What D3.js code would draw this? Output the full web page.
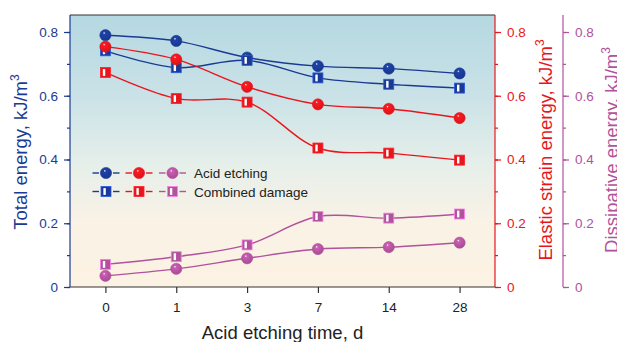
<!DOCTYPE html>
<html>
<head>
<meta charset="utf-8">
<script src="https://cdn.jsdelivr.net/npm/d3@7"></script>
<style>
  body { margin: 0; background: #fff; }
  svg { display: block; font-family: "Liberation Sans", Arial, sans-serif; }
</style>
</head>
<body>
<div id="chart"></div>
<script>
// data
const times = ['0', '1', '3', '7', '14', '28'];
const totalAcid = [0.790, 0.772, 0.720, 0.693, 0.685, 0.670];
const totalComb = [0.741, 0.688, 0.711, 0.656, 0.636, 0.624];
const elasticAcid = [0.754, 0.714, 0.628, 0.573, 0.559, 0.530];
const elasticComb = [0.673, 0.591, 0.580, 0.436, 0.420, 0.398];
const dissAcid = [0.035, 0.057, 0.090, 0.119, 0.125, 0.139];
const dissComb = [0.071, 0.095, 0.132, 0.221, 0.216, 0.229];
const yTicks = [0, 0.2, 0.4, 0.6, 0.8];
const legendLabels = ['Acid etching', 'Combined damage'];

const W = 617, H = 342;
const m = {left: 70, right: 495, top: 15, bottom: 287};
const blue = '#1a3a94', red = '#e8161c', purple = '#b0529c';

const svg = d3.select('#chart').append('svg')
    .attr('width', W).attr('height', H);

const defs = svg.append('defs');
const bg = defs.append('linearGradient').attr('id', 'bg')
    .attr('x1', 0).attr('y1', 0).attr('x2', 0).attr('y2', 1);
[['0%', '#b5d8e2'], ['30%', '#cae2e7'], ['55%', '#e6efea'], ['75%', '#f9f2e6'], ['100%', '#fcf2e4']]
    .forEach(([o, c]) => bg.append('stop').attr('offset', o).attr('stop-color', c));

function shine(id, col) {
    const g = defs.append('radialGradient').attr('id', id)
        .attr('cx', '45%').attr('cy', '40%').attr('r', '60%').attr('fx', '38%').attr('fy', '30%');
    g.append('stop').attr('offset', '0%').attr('stop-color', '#ffffff');
    g.append('stop').attr('offset', '18%').attr('stop-color', d3.color(col).brighter(0.4));
    g.append('stop').attr('offset', '100%').attr('stop-color', d3.color(col).darker(0.2));
}
shine('sb', blue); shine('sr', red); shine('sp', purple);

const x = d3.scalePoint().domain(times).range([m.left, m.right]).padding(0.5);
const y = d3.scaleLinear().domain([0, 0.8]).range([m.bottom, m.bottom - 255]);

svg.append('rect')
    .attr('x', m.left).attr('y', m.top)
    .attr('width', m.right - m.left).attr('height', m.bottom - m.top)
    .attr('fill', 'url(#bg)');
svg.append('line').attr('x1', m.left).attr('x2', m.right)
    .attr('y1', m.top).attr('y2', m.top).attr('stroke', '#333').attr('stroke-width', 1.2);

// axes
const minor = d3.range(0, 0.81, 0.1);
function yAxis(gen, xpos, col) {
    const g = svg.append('g').attr('transform', `translate(${xpos},0)`);
    g.call(gen(y).tickValues(yTicks).tickFormat(d => d === 0 ? '0' : d3.format('.1f')(d))
        .tickSize(6).tickPadding(6).tickSizeOuter(0));
    g.append('g').call(gen(y).tickValues(minor).tickFormat('').tickSize(3).tickSizeOuter(0))
        .select('.domain').remove();
    g.selectAll('path.domain').attr('d', `M0,${m.top}V${m.bottom}`);
    g.selectAll('line, path').attr('stroke', col).attr('stroke-width', 1.2);
    g.selectAll('text').attr('fill', col).attr('font-size', 13.5).attr('font-family', null);
    return g;
}
yAxis(d3.axisLeft, m.left, blue);
yAxis(d3.axisRight, m.right, red);
yAxis(d3.axisRight, 563, purple);

const gx = svg.append('g').attr('transform', `translate(0,${m.bottom})`)
    .call(d3.axisBottom(x).tickSize(6).tickPadding(9).tickSizeOuter(0));
gx.select('.domain').attr('d', `M${m.left},0H${m.right}`);
gx.selectAll('line, path').attr('stroke', '#333').attr('stroke-width', 1.2);
gx.selectAll('text').attr('fill', '#222').attr('font-size', 13.5).attr('font-family', null);

// titles
function vTitle(tx, ty, col, txt) {
    const t = svg.append('text')
        .attr('transform', `translate(${tx},${ty}) rotate(-90)`)
        .attr('text-anchor', 'middle').attr('fill', col).attr('font-size', 18.5);
    t.append('tspan').text(txt);
    t.append('tspan').text('3').attr('font-size', 12).attr('dy', -8);
}
vTitle(27, 152, blue, 'Total energy, kJ/m');
vTitle(552, 150, red, 'Elastic strain energy, kJ/m');
vTitle(618, 150, purple, 'Dissipative energy, kJ/m');
svg.append('text').attr('x', (m.left + m.right) / 2).attr('y', 339)
    .attr('text-anchor', 'middle').attr('fill', '#222').attr('font-size', 18.5)
    .text('Acid etching time, d');

// markers
function circleMark(g, cx, cy, col, grad) {
    g.append('circle').attr('cx', cx).attr('cy', cy).attr('r', 5.6)
        .attr('fill', `url(#${grad})`).attr('stroke', col).attr('stroke-width', 0.6);
}
function squareMark(g, cx, cy, col) {
    g.append('rect').attr('x', cx - 5).attr('y', cy - 5).attr('width', 10).attr('height', 10)
        .attr('fill', col).attr('stroke', d3.color(col).brighter(1.2)).attr('stroke-width', 0.8);
    g.append('rect').attr('x', cx - 2.6).attr('y', cy - 3.4).attr('width', 2.4).attr('height', 6.8)
        .attr('fill', '#fff');
}

const series = [
    {vals: totalAcid, col: blue, grad: 'sb', shape: 'c'},
    {vals: totalComb, col: blue, grad: 'sb', shape: 's'},
    {vals: elasticAcid, col: red, grad: 'sr', shape: 'c'},
    {vals: elasticComb, col: red, grad: 'sr', shape: 's'},
    {vals: dissAcid, col: purple, grad: 'sp', shape: 'c'},
    {vals: dissComb, col: purple, grad: 'sp', shape: 's'}
];

const line = d3.line()
    .x((d, i) => x(times[i]))
    .y(d => y(d))
    .curve(d3.curveCatmullRom.alpha(0.5));

series.forEach(s => {
    svg.append('path').attr('d', line(s.vals))
        .attr('fill', 'none').attr('stroke', s.col).attr('stroke-width', 1.4);
});
series.forEach(s => {
    const g = svg.append('g');
    s.vals.forEach((v, i) => {
        if (s.shape === 'c') circleMark(g, x(times[i]), y(v), s.col, s.grad);
        else squareMark(g, x(times[i]), y(v), s.col);
    });
});

// legend
const legCols = [[blue, 'sb', 106], [red, 'sr', 139], [purple, 'sp', 172.5]];
legendLabels.forEach((lab, r) => {
    const ly = 173 + r * 18.5;
    const g = svg.append('g');
    legCols.forEach(([col, grad, cx]) => {
        g.append('line').attr('x1', cx - 13.5).attr('x2', cx - 7).attr('y1', ly).attr('y2', ly)
            .attr('stroke', col).attr('stroke-width', 1.4);
        g.append('line').attr('x1', cx + 7).attr('x2', cx + 13.5).attr('y1', ly).attr('y2', ly)
            .attr('stroke', col).attr('stroke-width', 1.4);
        if (r === 0) circleMark(g, cx, ly, col, grad);
        else squareMark(g, cx, ly, col);
    });
    g.append('text').attr('x', 194).attr('y', ly + 5)
        .attr('fill', '#222').attr('font-size', 13.5).text(lab);
});
</script>
</body>
</html>
